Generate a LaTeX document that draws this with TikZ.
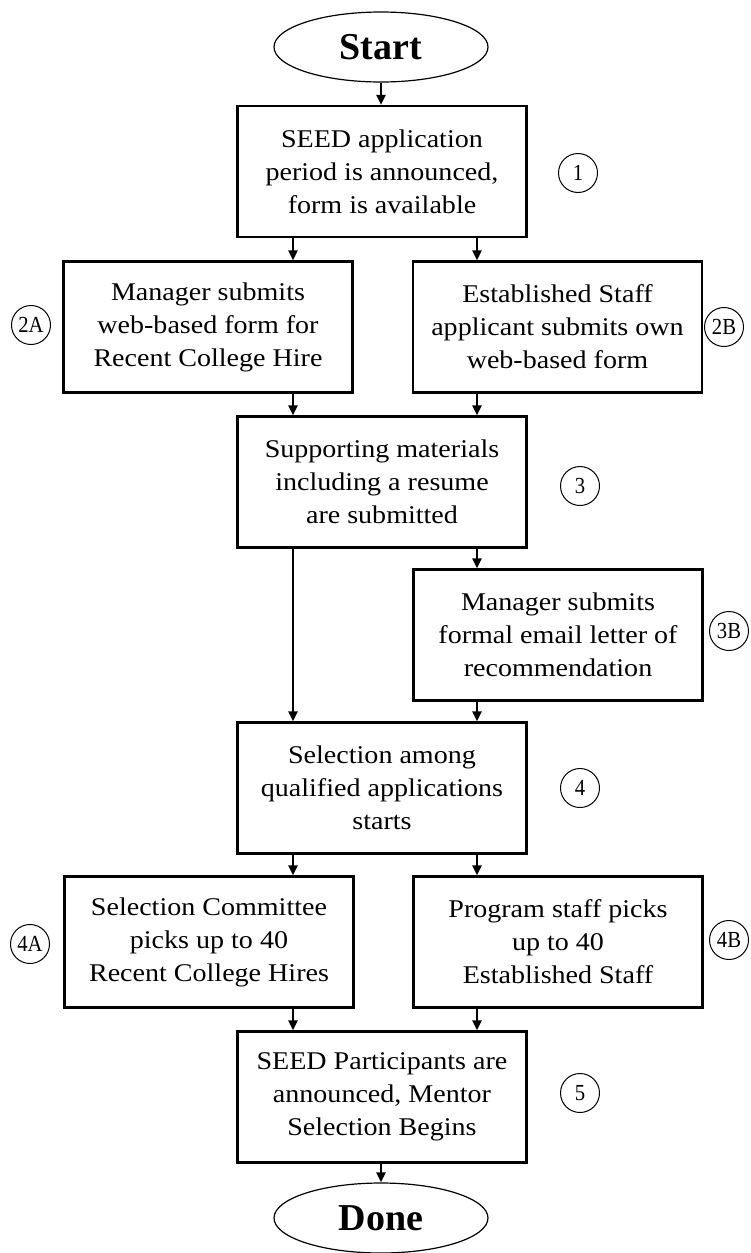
\documentclass[tikz,border=0pt]{standalone}
\usepackage{fontspec}
\setmainfont{Liberation Serif}
\newfontfamily\boxfont[FakeStretch=1.1]{Liberation Serif}
\newfontfamily\numfont[FakeStretch=0.9]{Liberation Serif}
\usetikzlibrary{shapes.geometric,arrows.meta}
\begin{document}
\begin{tikzpicture}[x=1pt,y=-1pt,
  stepbox/.style={draw, line width=2.2pt, rectangle, minimum width=289pt, minimum height=131pt, inner sep=0pt, align=center, font=\boxfont\fontsize{25.5}{33}\selectfont},
  term/.style={draw, line width=1.2pt, ellipse, minimum width=214pt, minimum height=70pt, inner sep=0pt, font=\bfseries\fontsize{38}{40}\selectfont},
  num/.style={draw, line width=1pt, circle, minimum size=39pt, inner sep=0pt, font=\numfont\fontsize{23}{23}\selectfont},
  arr/.style={line width=2.2pt, -{Triangle[width=9pt,length=10pt]}}]
\useasboundingbox (0,0) rectangle (750,1253);
\node[term] (start) at (381,47) {Start};
\node[stepbox] (s1) at (382,171.5) {SEED application\\period is announced,\\form is available};
\node[num] (n1) at (578,173) {1};
\node[stepbox] (s2a) at (208,327) {Manager submits\\web-based form for\\Recent College Hire};
\node[stepbox] (s2b) at (557.5,327) {Established Staff\\applicant submits own\\web-based form};
\node[num] (n2a) at (31,325) {2A};
\node[num] (n2b) at (724,327) {2B};
\node[stepbox] (s3) at (382,482) {Supporting materials\\including a resume\\are submitted};
\node[num] (n3) at (580,486) {3};
\node[stepbox] (s3b) at (558,635) {Manager submits\\formal email letter of\\recommendation};
\node[num] (n3b) at (729,631) {3B};
\node[stepbox] (s4) at (382,788) {Selection among\\qualified applications\\starts};
\node[num] (n4) at (580,788) {4};
\node[stepbox] (s4a) at (209,942) {Selection Committee\\picks up to 40\\Recent College Hires};
\node[stepbox] (s4b) at (558,942) {Program staff picks\\up to 40\\Established Staff};
\node[num] (n4a) at (30,944) {4A};
\node[num] (n4b) at (729,940) {4B};
\node[stepbox] (s5) at (382,1097) {SEED Participants are\\announced, Mentor\\Selection Begins};
\node[num] (n5) at (580,1093) {5};
\node[term] (done) at (381,1218) {Done};
\coordinate (L) at (293,0);
\coordinate (R) at (477,0);
\draw[arr] (start.south) -- (start.south |- s1.north);
\draw[arr] (s1.south -| L) -- (s2a.north -| L);
\draw[arr] (s1.south -| R) -- (s2b.north -| R);
\draw[arr] (s2a.south -| L) -- (s3.north -| L);
\draw[arr] (s2b.south -| R) -- (s3.north -| R);
\draw[arr] (s3.south -| L) -- (s4.north -| L);
\draw[arr] (s3.south -| R) -- (s3b.north -| R);
\draw[arr] (s3b.south -| R) -- (s4.north -| R);
\draw[arr] (s4.south -| L) -- (s4a.north -| L);
\draw[arr] (s4.south -| R) -- (s4b.north -| R);
\draw[arr] (s4a.south -| L) -- (s5.north -| L);
\draw[arr] (s4b.south -| R) -- (s5.north -| R);
\draw[arr] (s5.south -| done.north) -- (done.north);
\end{tikzpicture}
\end{document}
